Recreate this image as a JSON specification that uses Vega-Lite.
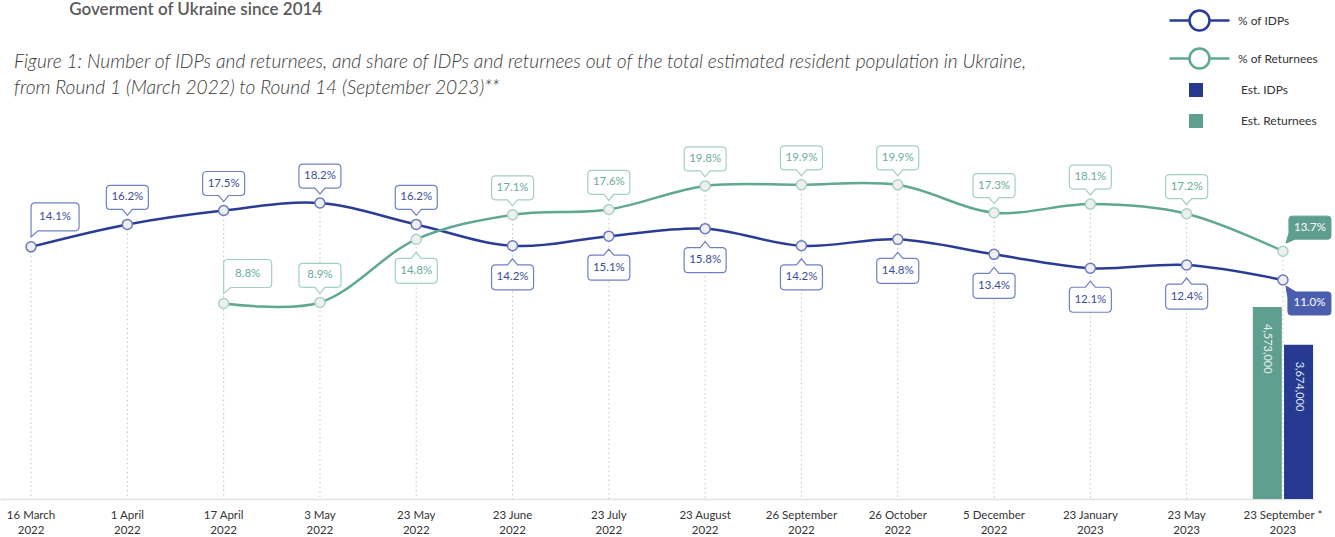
{
  "$schema": "https://vega.github.io/schema/vega-lite/v6.json",
  "autosize": {"type": "none"},
  "width": 1314,
  "height": 357,
  "padding": {"left": 0, "right": 21, "top": 142, "bottom": 38},
  "background": "white",
  "config": {"font": "Lato", "view": {"stroke": null}},
  "title": {
    "text": "\u200b\u2003\u2003\u2003\u2002\u2002Goverment of Ukraine since 2014",
    "subtitle": ["Figure 1: Number of IDPs and returnees, and share of IDPs and returnees out of the total estimated resident population in Ukraine,", "from Round 1 (March 2022) to Round 14 (September 2023)**"],
    "anchor": "start",
    "frame": "group",
    "orient": "top",
    "offset": -90,
    "dx": 14,
    "font": "Lato",
    "fontSize": 17,
    "fontWeight": 600,
    "color": "#5a5a5a",
    "subtitleFont": "Lato",
    "subtitleFontStyle": "italic",
    "subtitleFontWeight": 300,
    "subtitleFontSize": 19.2,
    "subtitleColor": "#3a3a3a",
    "subtitleLineHeight": 26,
    "subtitlePadding": 34
  },
  "datasets": {
    "pct": [
      {"round": "16 March 2022", "series": "% of IDPs", "pct": 0.141},
      {"round": "1 April 2022", "series": "% of IDPs", "pct": 0.162},
      {"round": "17 April 2022", "series": "% of IDPs", "pct": 0.175},
      {"round": "3 May 2022", "series": "% of IDPs", "pct": 0.182},
      {"round": "23 May 2022", "series": "% of IDPs", "pct": 0.162},
      {"round": "23 June 2022", "series": "% of IDPs", "pct": 0.142},
      {"round": "23 July 2022", "series": "% of IDPs", "pct": 0.151},
      {"round": "23 August 2022", "series": "% of IDPs", "pct": 0.158},
      {"round": "26 September 2022", "series": "% of IDPs", "pct": 0.142},
      {"round": "26 October 2022", "series": "% of IDPs", "pct": 0.148},
      {"round": "5 December 2022", "series": "% of IDPs", "pct": 0.134},
      {"round": "23 January 2023", "series": "% of IDPs", "pct": 0.121},
      {"round": "23 May 2023", "series": "% of IDPs", "pct": 0.124},
      {"round": "23 September * 2023", "series": "% of IDPs", "pct": 0.110},
      {"round": "17 April 2022", "series": "% of Returnees", "pct": 0.088},
      {"round": "3 May 2022", "series": "% of Returnees", "pct": 0.089},
      {"round": "23 May 2022", "series": "% of Returnees", "pct": 0.148},
      {"round": "23 June 2022", "series": "% of Returnees", "pct": 0.171},
      {"round": "23 July 2022", "series": "% of Returnees", "pct": 0.176},
      {"round": "23 August 2022", "series": "% of Returnees", "pct": 0.198},
      {"round": "26 September 2022", "series": "% of Returnees", "pct": 0.199},
      {"round": "26 October 2022", "series": "% of Returnees", "pct": 0.199},
      {"round": "5 December 2022", "series": "% of Returnees", "pct": 0.173},
      {"round": "23 January 2023", "series": "% of Returnees", "pct": 0.181},
      {"round": "23 May 2023", "series": "% of Returnees", "pct": 0.172},
      {"round": "23 September * 2023", "series": "% of Returnees", "pct": 0.137}
    ],
    "est": [
      {"round": "23 September * 2023", "series": "Est. Returnees", "value": 4573000},
      {"round": "23 September * 2023", "series": "Est. IDPs", "value": 3674000}
    ]
  },
  "encoding": {
    "x": {
      "field": "round",
      "type": "nominal",
      "sort": ["16 March 2022", "1 April 2022", "17 April 2022", "3 May 2022", "23 May 2022", "23 June 2022", "23 July 2022", "23 August 2022", "26 September 2022", "26 October 2022", "5 December 2022", "23 January 2023", "23 May 2023", "23 September * 2023"],
      "scale": {"type": "band", "paddingInner": 0.355, "paddingOuter": 0},
      "axis": {
        "title": null,
        "labelAngle": 0,
        "labelExpr": "[slice(datum.label, 0, -5), slice(datum.label, -4)]",
        "labelFont": "Lato",
        "labelFontSize": 11.5,
        "labelColor": "#333333",
        "labelPadding": 10,
        "labelBaseline": "top",
        "labelLineHeight": 15,
        "ticks": false,
        "grid": false,
        "domainColor": "#e2e2e2",
        "domainWidth": 1.5
      }
    }
  },
  "layer": [
    {
      "data": {"name": "est"},
      "encoding": {
        "y": {"field": "value", "type": "quantitative", "scale": {"domain": [0, 8500000]}, "axis": null},
        "xOffset": {"field": "series", "sort": ["Est. Returnees", "Est. IDPs"], "scale": {"paddingInner": 0.07, "paddingOuter": 0.03}}
      },
      "layer": [
        {
          "mark": {"type": "bar"},
          "encoding": {
            "fill": {
              "field": "series",
              "type": "nominal",
              "scale": {"domain": ["Est. IDPs", "Est. Returnees"], "range": ["#263a91", "#5e9f90"]},
              "legend": {
                "orient": "none",
                "legendX": 1189,
                "legendY": -59,
                "title": null,
                "symbolType": "square",
                "symbolSize": 196,
                "symbolStrokeWidth": 0,
                "labelFont": "Lato",
                "labelFontSize": 12,
                "labelColor": "#333333",
                "labelOffset": 38,
                "rowPadding": 17
              }
            }
          }
        },
        {
          "mark": {"type": "text", "angle": 90, "align": "left", "baseline": "middle", "dx": 17, "fontSize": 11, "font": "Lato"},
          "encoding": {
            "text": {"field": "value", "type": "quantitative", "format": ",d"},
            "fill": {"condition": {"test": "datum.series === 'Est. IDPs'", "value": "#dfe4f5"}, "value": "#e6f2ee"}
          }
        }
      ]
    },
    {
      "data": {"name": "pct"},
      "encoding": {
        "y": {"field": "pct", "type": "quantitative", "scale": {"domain": [-0.0949, 0.2391]}, "axis": null}
      },
      "layer": [
        {
          "mark": {"type": "rule", "color": "#c4c4c4", "strokeDash": [1.5, 3], "strokeWidth": 1},
          "encoding": {
            "y": {"field": "pct", "aggregate": "max", "type": "quantitative", "scale": {"domain": [-0.0949, 0.2391]}, "axis": null},
            "y2": {"datum": -0.0949}
          }
        },
        {
          "mark": {"type": "line", "interpolate": "catmull-rom", "strokeWidth": 2.5},
          "encoding": {
            "stroke": {
              "field": "series",
              "type": "nominal",
              "scale": {"domain": ["% of IDPs", "% of Returnees"], "range": ["#2a3d96", "#5fa894"]},
              "legend": {
                "orient": "none",
                "legendX": 1188,
                "legendY": -133,
                "title": null,
                "symbolType": "M-3,0L-1,0M1,0L3,0M1,0A1,1,0,1,1,-1,0A1,1,0,1,1,1,0",
                "symbolSize": 400,
                "symbolStrokeWidth": 2.5,
                "symbolFillColor": "#ffffff",
                "labelFont": "Lato",
                "labelFontSize": 12,
                "labelColor": "#333333",
                "labelOffset": 27,
                "rowPadding": 7,
                "encode": {"symbols": {"update": {"fill": {"value": "#ffffff"}, "strokeWidth": {"value": 2.5}}}}
              }
            }
          }
        },
        {
          "transform": [{"filter": {"and": [{"field": "series", "equal": "% of IDPs"}, {"field": "round", "oneOf": ["1 April 2022", "17 April 2022", "3 May 2022", "23 May 2022"]}]}}],
          "layer": [
            {"mark": {"type": "point", "filled": true, "opacity": 1, "fill": "white", "stroke": "#7080c4", "strokeWidth": 1.2, "size": 10000, "shape": "M-0.34,-0.78L0.34,-0.78Q0.42,-0.78,0.42,-0.7L0.42,-0.38Q0.42,-0.3,0.34,-0.3L0.1,-0.3L0,-0.18L-0.1,-0.3L-0.34,-0.3Q-0.42,-0.3,-0.42,-0.38L-0.42,-0.7Q-0.42,-0.78,-0.34,-0.78Z"}},
            {"mark": {"type": "text", "dy": -27, "fontSize": 11.5, "color": "#3b4d9c"}, "encoding": {"text": {"field": "pct", "type": "quantitative", "format": ".1%"}}}
          ]
        },
        {
          "transform": [{"filter": {"and": [{"field": "series", "equal": "% of Returnees"}, {"field": "round", "oneOf": ["3 May 2022", "23 June 2022", "23 July 2022", "23 August 2022", "26 September 2022", "26 October 2022", "5 December 2022", "23 January 2023", "23 May 2023"]}]}}],
          "layer": [
            {"mark": {"type": "point", "filled": true, "opacity": 1, "fill": "white", "stroke": "#a3d0c4", "strokeWidth": 1.2, "size": 10000, "shape": "M-0.34,-0.78L0.34,-0.78Q0.42,-0.78,0.42,-0.7L0.42,-0.38Q0.42,-0.3,0.34,-0.3L0.1,-0.3L0,-0.18L-0.1,-0.3L-0.34,-0.3Q-0.42,-0.3,-0.42,-0.38L-0.42,-0.7Q-0.42,-0.78,-0.34,-0.78Z"}},
            {"mark": {"type": "text", "dy": -27, "fontSize": 11.5, "color": "#6aab9b"}, "encoding": {"text": {"field": "pct", "type": "quantitative", "format": ".1%"}}}
          ]
        },
        {
          "transform": [{"filter": {"and": [{"field": "series", "equal": "% of IDPs"}, {"field": "round", "oneOf": ["23 June 2022", "23 July 2022", "23 August 2022", "26 September 2022", "26 October 2022", "5 December 2022", "23 January 2023", "23 May 2023"]}]}}],
          "layer": [
            {"mark": {"type": "point", "filled": true, "opacity": 1, "fill": "white", "stroke": "#7080c4", "strokeWidth": 1.2, "size": 10000, "shape": "M-0.34,0.38L-0.1,0.38L0,0.26L0.1,0.38L0.34,0.38Q0.42,0.38,0.42,0.46L0.42,0.8Q0.42,0.88,0.34,0.88L-0.34,0.88Q-0.42,0.88,-0.42,0.8L-0.42,0.46Q-0.42,0.38,-0.34,0.38Z"}},
            {"mark": {"type": "text", "dy": 31.5, "fontSize": 11.5, "color": "#3b4d9c"}, "encoding": {"text": {"field": "pct", "type": "quantitative", "format": ".1%"}}}
          ]
        },
        {
          "transform": [{"filter": {"and": [{"field": "series", "equal": "% of Returnees"}, {"field": "round", "oneOf": ["23 May 2022"]}]}}],
          "layer": [
            {"mark": {"type": "point", "filled": true, "opacity": 1, "fill": "white", "stroke": "#a3d0c4", "strokeWidth": 1.2, "size": 10000, "shape": "M-0.34,0.38L-0.1,0.38L0,0.26L0.1,0.38L0.34,0.38Q0.42,0.38,0.42,0.46L0.42,0.8Q0.42,0.88,0.34,0.88L-0.34,0.88Q-0.42,0.88,-0.42,0.8L-0.42,0.46Q-0.42,0.38,-0.34,0.38Z"}},
            {"mark": {"type": "text", "dy": 31.5, "fontSize": 11.5, "color": "#6aab9b"}, "encoding": {"text": {"field": "pct", "type": "quantitative", "format": ".1%"}}}
          ]
        },
        {
          "transform": [{"filter": {"and": [{"field": "series", "equal": "% of IDPs"}, {"field": "round", "oneOf": ["16 March 2022"]}]}}],
          "layer": [
            {"mark": {"type": "point", "filled": true, "opacity": 1, "fill": "white", "stroke": "#7080c4", "strokeWidth": 1.2, "size": 10000, "shape": "M0.08,-0.88L0.88,-0.88Q0.96,-0.88,0.96,-0.8L0.96,-0.4Q0.96,-0.32,0.88,-0.32L0.14,-0.32L0,-0.2L0,-0.8Q0,-0.88,0.08,-0.88Z"}},
            {"mark": {"type": "text", "dx": 24, "dy": -30, "fontSize": 11.5, "color": "#3b4d9c"}, "encoding": {"text": {"field": "pct", "type": "quantitative", "format": ".1%"}}}
          ]
        },
        {
          "transform": [{"filter": {"and": [{"field": "series", "equal": "% of Returnees"}, {"field": "round", "oneOf": ["17 April 2022"]}]}}],
          "layer": [
            {"mark": {"type": "point", "filled": true, "opacity": 1, "fill": "white", "stroke": "#a3d0c4", "strokeWidth": 1.2, "size": 10000, "shape": "M0.08,-0.88L0.88,-0.88Q0.96,-0.88,0.96,-0.8L0.96,-0.4Q0.96,-0.32,0.88,-0.32L0.14,-0.32L0,-0.2L0,-0.8Q0,-0.88,0.08,-0.88Z"}},
            {"mark": {"type": "text", "dx": 24, "dy": -30, "fontSize": 11.5, "color": "#6aab9b"}, "encoding": {"text": {"field": "pct", "type": "quantitative", "format": ".1%"}}}
          ]
        },
        {
          "transform": [{"filter": {"and": [{"field": "series", "equal": "% of Returnees"}, {"field": "round", "oneOf": ["23 September * 2023"]}]}}],
          "layer": [
            {"mark": {"type": "point", "filled": true, "opacity": 1, "fill": "#5e9e90", "stroke": "#5e9e90", "strokeWidth": 1, "size": 10000, "shape": "M0.18,-0.7L0.9,-0.7Q0.96,-0.7,0.96,-0.64L0.96,-0.3Q0.96,-0.24,0.9,-0.24L0.24,-0.24L0.06,-0.16L0.12,-0.36L0.12,-0.64Q0.12,-0.7,0.18,-0.7Z"}},
            {"mark": {"type": "text", "dx": 27, "dy": -23.5, "fontSize": 11.5, "color": "#ffffff"}, "encoding": {"text": {"field": "pct", "type": "quantitative", "format": ".1%"}}}
          ]
        },
        {
          "transform": [{"filter": {"and": [{"field": "series", "equal": "% of IDPs"}, {"field": "round", "oneOf": ["23 September * 2023"]}]}}],
          "layer": [
            {"mark": {"type": "point", "filled": true, "opacity": 1, "fill": "#4a5eae", "stroke": "#4a5eae", "strokeWidth": 1, "size": 10000, "shape": "M0.06,0.12L0.26,0.24L0.9,0.24Q0.96,0.24,0.96,0.3L0.96,0.64Q0.96,0.7,0.9,0.7L0.16,0.7Q0.1,0.7,0.1,0.64L0.1,0.36Z"}},
            {"mark": {"type": "text", "dx": 26.5, "dy": 23.5, "fontSize": 11.5, "color": "#ffffff"}, "encoding": {"text": {"field": "pct", "type": "quantitative", "format": ".1%"}}}
          ]
        },
        {
          "mark": {"type": "point", "filled": true, "opacity": 1, "fill": "#efefef", "strokeWidth": 1.5, "size": 100},
          "encoding": {
            "stroke": {"condition": {"test": "datum.series === '% of IDPs'", "value": "#6a79c0"}, "value": "#a9d4c8"}
          }
        }
      ]
    }
  ],
  "resolve": {"scale": {"y": "independent"}}
}
